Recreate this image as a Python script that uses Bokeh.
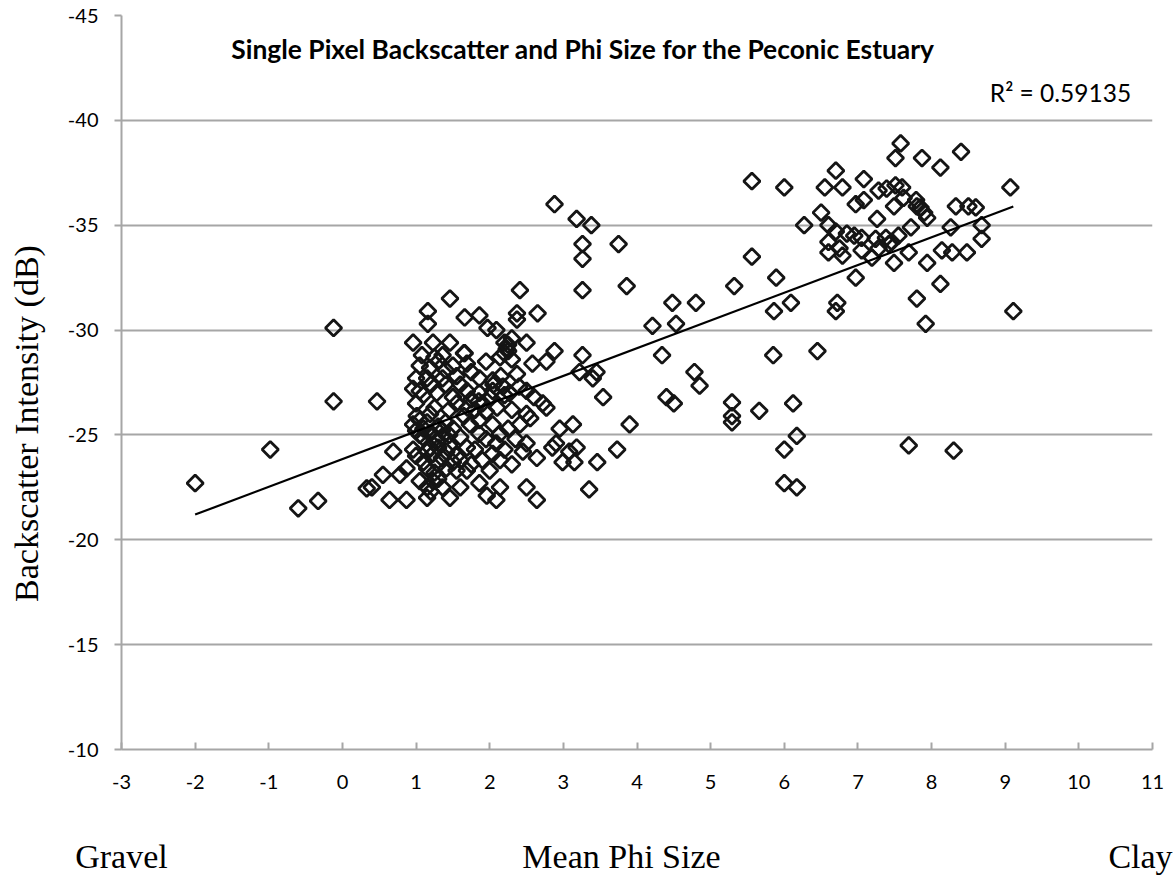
import numpy as np
from bokeh.plotting import figure
from bokeh.models import Range1d, FixedTicker, Label, ColumnDataSource, LinearAxis
from bokeh.embed import file_html
from bokeh.resources import INLINE

# ---- data (Mean Phi size, backscatter dB) ----
phi_coarse = [-2.0, -0.98, -0.6, -0.33, -0.12, -0.12, 0.47, 0.33, 0.40, 0.55]
bs_coarse = [-22.7, -24.3, -21.5, -21.85, -30.1, -26.6, -26.6, -22.45, -22.5, -23.1]

phi_sand = [
    1.46, 2.41, 1.16, 1.16, 1.66, 1.86, 1.97, 2.09, 2.37, 2.37,
    2.65, 0.96, 1.23, 1.46, 1.66, 1.08, 1.36, 2.23, 2.25, 2.20,
    2.14, 2.50, 2.58, 2.77, 2.88, 1.19, 1.50, 1.69, 1.86, 2.04,
    2.18, 2.37, 1.15, 1.36, 0.96, 1.05, 1.28, 1.50, 1.69, 1.86,
    2.04, 2.27, 2.50, 1.01, 0.96, 1.00, 1.05, 1.19, 2.72, 2.77,
    2.50, 2.55, 2.41, 2.95, 3.13, 1.73, 1.86, 2.04, 2.14, 1.09,
    1.28, 1.19, 1.23, 1.41, 1.50, 1.60, 1.69, 1.86, 2.09, 2.04,
    2.14, 2.50, 2.90, 2.85, 2.64, 3.08, 2.99, 3.15, 0.69, 0.96,
    0.78, 0.87, 1.15, 1.41, 1.55, 1.69, 1.05, 1.15, 1.23, 1.36,
    0.64, 0.87, 1.15, 1.46, 1.86, 1.96, 2.14, 2.09, 2.50, 2.64,
    1.10, 1.20, 1.30, 1.35, 1.40, 1.25, 1.30, 1.45, 1.55, 1.60,
    1.75, 1.80, 1.90, 2.00, 2.10, 2.20, 2.30, 1.40, 1.55, 1.75,
    1.95, 2.30, 1.30, 1.20, 1.00, 1.10, 1.35, 1.25, 1.60, 1.80,
    1.95, 2.25, 2.35, 2.20, 1.45, 1.65, 1.90, 2.00, 1.10, 1.00,
    1.05, 1.15, 1.25, 1.35, 1.15, 1.30, 1.45, 1.55, 1.50, 1.70,
    1.85, 1.95, 2.05, 2.15, 2.25, 2.20, 2.30, 2.40, 2.60, 1.65,
    1.40, 1.25, 1.05, 1.00, 1.20, 1.30, 1.60, 1.75, 2.30, 2.45,
]
bs_sand = [
    -31.5, -31.9, -30.9, -30.3, -30.6, -30.7, -30.1, -30.0, -30.8, -30.5,
    -30.8, -29.4, -29.4, -29.4, -28.9, -28.8, -28.8, -29.1, -29.3, -28.9,
    -28.7, -29.4, -28.4, -28.5, -29.0, -28.2, -28.3, -28.4, -27.7, -27.6,
    -27.3, -27.9, -27.7, -27.7, -27.2, -27.1, -27.0, -26.8, -27.1, -27.0,
    -27.1, -27.0, -27.1, -25.9, -25.5, -25.2, -25.7, -26.0, -26.5, -26.3,
    -26.0, -25.8, -25.5, -25.3, -25.5, -25.5, -25.7, -25.5, -25.05, -24.9,
    -24.7, -24.4, -24.1, -24.2, -23.7, -24.9, -24.4, -25.05, -24.6, -24.1,
    -23.8, -24.6, -24.6, -24.4, -23.9, -24.2, -23.7, -23.7, -24.2, -24.3,
    -23.1, -23.4, -23.4, -23.4, -23.3, -23.3, -22.8, -22.5, -22.8, -22.5,
    -21.9, -21.9, -22.0, -22.0, -22.7, -22.1, -22.5, -21.9, -22.5, -21.9,
    -25.3, -25.1, -25.4, -24.9, -25.6, -26.3, -24.4, -26.2, -26.5, -27.4,
    -26.7, -26.2, -26.5, -26.8, -26.3, -26.9, -26.2, -27.4, -27.8, -28.0,
    -28.5, -28.6, -28.5, -27.4, -26.5, -26.9, -23.9, -23.2, -23.8, -24.3,
    -24.8, -25.3, -24.8, -24.3, -25.0, -25.9, -23.8, -23.3, -23.7, -24.0,
    -25.0, -25.6, -24.8, -25.2, -24.2, -23.6, -24.5, -24.0, -25.3, -26.3,
    -26.6, -26.1, -27.4, -27.8, -29.0, -29.4, -29.6, -27.3, -26.8, -28.9,
    -28.1, -28.7, -28.3, -27.7, -22.3, -22.9, -22.5, -23.6, -23.6, -24.2,
]

phi_mid = [
    2.88, 3.18, 3.38, 3.26, 3.26, 3.75, 3.26, 3.86, 3.26, 3.22,
    3.45, 3.40, 3.54, 3.90, 3.73, 3.46, 3.35, 3.18, 4.21, 4.48,
    4.80, 4.53, 4.34, 4.78, 4.85, 4.40, 4.50, 5.56, 5.56, 5.32,
    5.29, 5.29, 5.29, 5.66, 5.85, 5.89, 5.86, 6.00, 6.09, 6.12,
    6.17, 6.00, 6.00, 6.17, 6.27, 6.45,
]
bs_mid = [
    -36.0, -35.3, -35.0, -34.1, -33.4, -34.1, -31.9, -32.1, -28.8, -28.0,
    -28.0, -27.7, -26.8, -25.5, -24.3, -23.7, -22.4, -24.4, -30.2, -31.3,
    -31.3, -30.3, -28.8, -28.0, -27.35, -26.8, -26.5, -37.1, -33.5, -32.1,
    -26.55, -25.9, -25.6, -26.15, -28.8, -32.5, -30.9, -36.8, -31.3, -26.5,
    -24.95, -24.3, -22.7, -22.5, -35.0, -29.0,
]

phi_fine = [
    6.70, 6.55, 6.79, 6.50, 6.60, 6.70, 6.85, 6.60, 6.75, 6.79,
    6.60, 7.08, 7.58, 7.51, 7.87, 8.12, 8.40, 7.28, 7.39, 7.51,
    7.60, 6.97, 7.08, 7.49, 7.26, 7.79, 7.85, 7.90, 7.94, 7.72,
    8.33, 8.50, 8.60, 9.07, 8.68, 8.26, 7.62, 7.80, 6.95, 7.05,
    7.24, 7.38, 7.46, 7.55, 7.69, 7.49, 6.97, 7.19, 7.94, 8.14,
    8.28, 8.48, 8.68, 8.12, 7.80, 6.72, 6.70, 7.92, 9.11, 7.69,
    8.30, 7.28, 7.42, 7.05,
]
bs_fine = [
    -37.6, -36.8, -36.8, -35.6, -35.0, -34.7, -34.6, -34.2, -33.9, -33.55,
    -33.7, -37.2, -38.9, -38.2, -38.2, -37.75, -38.5, -36.65, -36.75, -36.9,
    -36.8, -36.0, -36.2, -35.9, -35.3, -36.2, -35.85, -35.6, -35.35, -34.9,
    -35.9, -35.9, -35.85, -36.8, -35.0, -34.9, -36.3, -35.9, -34.5, -34.4,
    -34.35, -34.4, -34.2, -34.5, -33.7, -33.2, -32.5, -33.45, -33.2, -33.8,
    -33.7, -33.7, -34.35, -32.2, -31.5, -31.3, -30.9, -30.3, -30.9, -24.5,
    -24.25, -33.9, -34.1, -33.8,
]

x_ticks = list(range(-3, 12))
y_ticks = list(range(-45, -9, 5))
r2_text = "R\u00b2 = 0.59135"
title_text = "Single Pixel Backscatter and Phi Size for the Peconic Estuary"
# outer title texts, keyed by their position in pixels along the frame
x_names = {0: "Gravel", 500: "Mean Phi Size", 1019: "Clay"}
y_names = {326: "Backscatter Intensity (dB)"}

phi = np.array(phi_coarse + phi_sand + phi_mid + phi_fine)
bs = np.array(bs_coarse + bs_sand + bs_mid + bs_fine)

slope, intercept = np.polyfit(phi, bs, 1)
fit_x = np.array([phi.min(), phi.max()])
fit_y = slope * fit_x + intercept

AX = "#a6a6a6"
SERIF = "Liberation Serif"

p = figure(width=1173, height=882, output_backend="svg", toolbar_location=None,
           x_range=Range1d(-3, 11), y_range=Range1d(-10, -45),
           min_border_left=121, min_border_right=21, min_border_top=15,
           min_border_bottom=133)
p.outline_line_color = None
p.background_fill_color = "white"
p.border_fill_color = "white"
p.extra_x_ranges = {"names": Range1d(0, 1031)}
p.extra_y_ranges = {"names": Range1d(0, 734)}

p.xaxis.ticker = FixedTicker(ticks=x_ticks)
p.yaxis.ticker = FixedTicker(ticks=y_ticks)
p.xaxis.major_label_overrides = {t: str(t) for t in x_ticks}
p.yaxis.major_label_overrides = {t: str(t) for t in y_ticks}
p.xgrid.grid_line_color = None
p.ygrid.grid_line_color = AX
p.ygrid.grid_line_width = 2

for ax in (p.xaxis, p.yaxis):
    ax.axis_line_color = AX
    ax.axis_line_width = 2
    ax.major_tick_line_color = AX
    ax.major_tick_line_width = 2
    ax.minor_tick_line_color = None
    ax.major_label_text_font = "Lato"
    ax.major_label_text_font_size = "20px"
    ax.major_label_text_color = "black"

p.xaxis.major_tick_in = 7
p.xaxis.major_tick_out = 0
p.xaxis.major_label_standoff = 25
p.yaxis.major_tick_in = 0
p.yaxis.major_tick_out = 7
p.yaxis.major_label_standoff = 16


def names_axis(axis, standoff):
    axis.axis_line_color = None
    axis.major_tick_line_color = None
    axis.minor_tick_line_color = None
    axis.major_tick_in = 0
    axis.major_tick_out = 0
    axis.major_label_standoff = standoff
    axis.major_label_text_font = SERIF
    axis.major_label_text_font_size = "34px"
    axis.major_label_text_color = "black"
    return axis


bottom_names = names_axis(LinearAxis(x_range_name="names",
                                     ticker=FixedTicker(ticks=list(x_names)),
                                     major_label_overrides=x_names), 46)
p.add_layout(bottom_names, "below")

left_names = names_axis(LinearAxis(y_range_name="names",
                                   ticker=FixedTicker(ticks=list(y_names)),
                                   major_label_overrides=y_names,
                                   major_label_orientation="vertical"), 20)
p.add_layout(left_names, "left")

src = ColumnDataSource(dict(x=phi, y=bs))
p.scatter("x", "y", source=src, marker="square", angle=np.pi / 4, size=11.5,
          fill_color=None, line_color="#151515", line_width=2.8)

p.line(fit_x, fit_y, line_color="black", line_width=2.2)

p.add_layout(Label(x=3.27, y=-43.4, text=title_text, text_font="Lato",
                   text_font_style="bold", text_font_size="26.4px",
                   text_color="black",
                   text_align="center", text_baseline="middle"))
p.add_layout(Label(x=10.71, y=-41.33, text=r2_text, text_font="Lato",
                   text_font_size="24.5px", text_align="right",
                   text_color="black", text_baseline="middle"))

open("out.html", "w").write(file_html(p, INLINE))
